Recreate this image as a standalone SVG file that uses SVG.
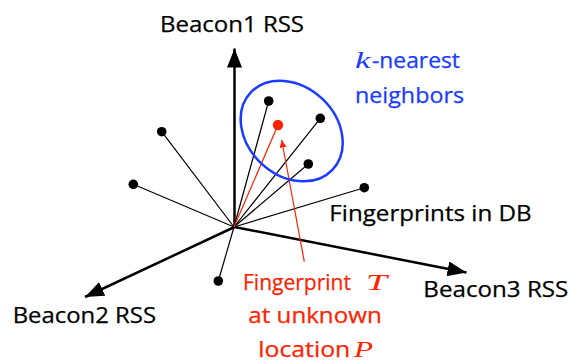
<svg xmlns="http://www.w3.org/2000/svg" width="569" height="362" viewBox="0 0 569 362">
<style>
.lbl{font-family:"Open Sans","Liberation Sans",sans-serif;font-size:22px;fill:#000;stroke:#000;stroke-width:0.25}
.blue{fill:#1a3cff;stroke:#1a3cff}
.red{fill:#ff2200;stroke:#ff2200}
.math{font-family:"Liberation Serif",serif;font-style:italic;font-size:23px;stroke:none}
.mblue{fill:#1a3cff}
.mred{fill:#ff2200}
.axis{stroke:#000;stroke-width:2.5;fill:none}
.fp{stroke:#000;stroke-width:1.2;fill:none}
.fpr{stroke:#ff2200;stroke-width:1.2;fill:none}
.dot{fill:#000}
</style>
<defs>
<marker id="ah" markerUnits="userSpaceOnUse" markerWidth="20" markerHeight="16" refX="19" refY="7.5" orient="auto">
<path d="M0,0 L19,7.5 L0,15 z" fill="#000"/>
</marker>
<marker id="ahr" markerUnits="userSpaceOnUse" markerWidth="8" markerHeight="8" refX="7.5" refY="3.5" orient="auto">
<path d="M0,0 L7.5,3.5 L0,7 z" fill="#ff2200"/>
</marker>
</defs>
<g id="connectors">
<line class="axis" x1="234.5" y1="227" x2="234.5" y2="48.5" marker-end="url(#ah)"/>
<line class="axis" x1="234.5" y1="227" x2="85" y2="297" marker-end="url(#ah)"/>
<line class="axis" x1="234.5" y1="227" x2="466.5" y2="272.5" marker-end="url(#ah)"/>
<line class="fp" x1="234" y1="227" x2="161.7" y2="131.7"/>
<line class="fp" x1="234" y1="227" x2="133.3" y2="184.3"/>
<line class="fp" x1="234" y1="227" x2="218.3" y2="281"/>
<line class="fp" x1="234" y1="227" x2="268.7" y2="101"/>
<line class="fp" x1="234" y1="227" x2="320.3" y2="118.3"/>
<line class="fp" x1="234" y1="227" x2="308.3" y2="164"/>
<line class="fp" x1="234" y1="227" x2="364.3" y2="187.7"/>
<line class="fpr" x1="234" y1="227" x2="278" y2="125"/>
<line class="fpr" x1="304.3" y1="261.7" x2="281.7" y2="140" marker-end="url(#ahr)"/>
</g>
<g id="axis-beacon1"><text class="lbl" x="160" y="32.3" textLength="144" lengthAdjust="spacingAndGlyphs">Beacon1 RSS</text></g>
<g id="axis-beacon2"><text class="lbl" x="12.7" y="322.7" textLength="143.3" lengthAdjust="spacingAndGlyphs">Beacon2 RSS</text></g>
<g id="axis-beacon3"><text class="lbl" x="423.3" y="296.7" textLength="145" lengthAdjust="spacingAndGlyphs">Beacon3 RSS</text></g>
<g id="knn">
<ellipse cx="291.7" cy="131" rx="56.2" ry="44.4" transform="rotate(43.3 291.7 131)" fill="none" stroke="#1a3cff" stroke-width="2.5"/>
<text class="math mblue" x="355" y="67.7" font-size="24" textLength="15.5" lengthAdjust="spacingAndGlyphs">k</text>
<text class="lbl blue" x="372" y="67.7" textLength="88" lengthAdjust="spacingAndGlyphs">-nearest</text>
<text class="lbl blue" x="355" y="103.3" textLength="109" lengthAdjust="spacingAndGlyphs">neighbors</text>
</g>
<g id="fingerprints">
<circle class="dot" cx="161.7" cy="131.7" r="4.8"/>
<circle class="dot" cx="133.3" cy="184.3" r="4.8"/>
<circle class="dot" cx="218.3" cy="281" r="4.8"/>
<circle class="dot" cx="268.7" cy="101" r="4.8"/>
<circle class="dot" cx="320.3" cy="118.3" r="4.8"/>
<circle class="dot" cx="308.3" cy="164" r="4.8"/>
<circle class="dot" cx="364.3" cy="187.7" r="4.8"/>
<text class="lbl" x="329.3" y="221" textLength="202.4" lengthAdjust="spacingAndGlyphs">Fingerprints in DB</text>
</g>
<g id="target">
<circle cx="278" cy="125" r="5.2" fill="#ff2200"/>
<text class="lbl red" x="243" y="290" textLength="108" lengthAdjust="spacingAndGlyphs">Fingerprint</text>
<text class="math mred" x="366" y="290" textLength="21" lengthAdjust="spacingAndGlyphs">T</text>
<text class="lbl red" x="248.3" y="323.3" textLength="133.4" lengthAdjust="spacingAndGlyphs">at unknown</text>
<text class="lbl red" x="258.3" y="356.7" textLength="92" lengthAdjust="spacingAndGlyphs">location</text>
<text class="math mred" x="354" y="356.7" textLength="19" lengthAdjust="spacingAndGlyphs">P</text>
</g>
</svg>
